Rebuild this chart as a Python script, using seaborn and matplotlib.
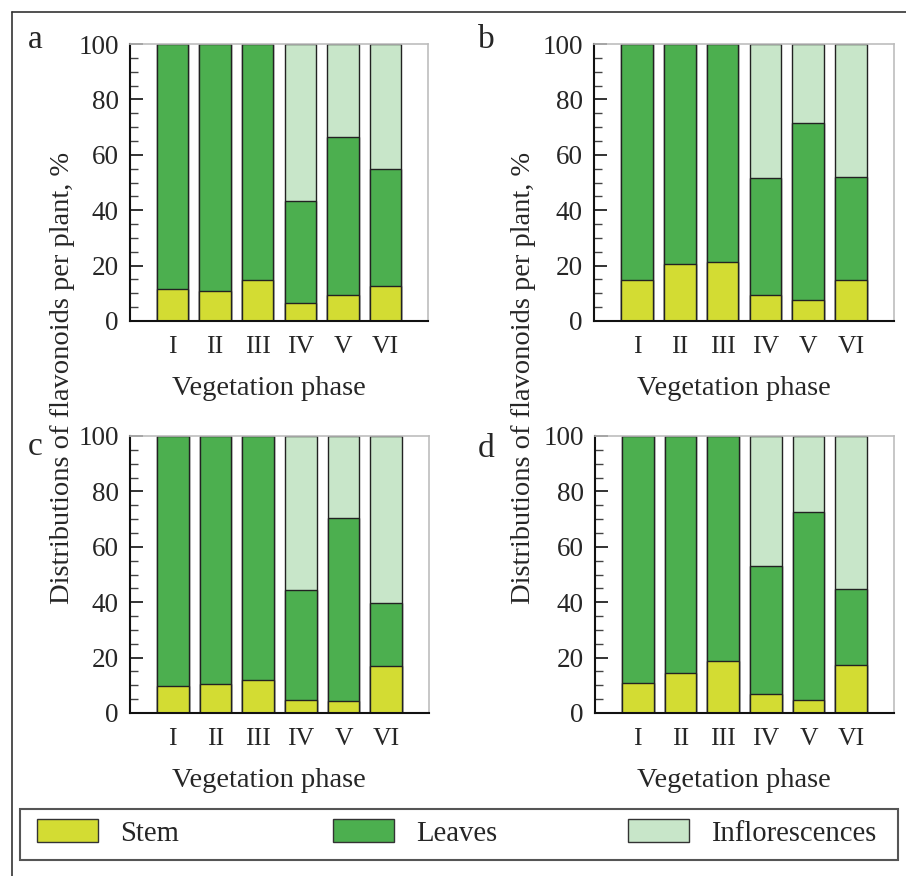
import numpy as np
import pandas as pd
import matplotlib
matplotlib.use("Agg")
import matplotlib.pyplot as plt
from matplotlib.patches import Patch, Rectangle
from matplotlib.lines import Line2D
from matplotlib.ticker import MultipleLocator
import seaborn as sns

# Vegetation phases and plant parts
phases = ["I", "II", "III", "IV", "V", "VI"]
panels = ["a", "b", "c", "d"]
parts = ["Stem", "Leaves", "Inflorescences"]

# Share of flavonoids (%) per plant part, one set per panel
stem_a = [11.6, 10.8, 14.9, 6.5, 9.4, 12.6]
leaves_a = [88.4, 89.2, 85.1, 37.0, 57.0, 42.4]
infl_a = [0.0, 0.0, 0.0, 56.5, 33.6, 45.0]

stem_b = [14.9, 20.4, 21.2, 9.4, 7.7, 14.8]
leaves_b = [85.1, 79.6, 78.8, 42.3, 63.8, 37.1]
infl_b = [0.0, 0.0, 0.0, 48.3, 28.5, 48.1]

stem_c = [9.6, 10.6, 12.0, 4.8, 4.4, 16.8]
leaves_c = [90.4, 89.4, 88.0, 39.6, 66.1, 22.9]
infl_c = [0.0, 0.0, 0.0, 55.6, 29.5, 60.3]

stem_d = [11.0, 14.3, 18.6, 7.0, 4.7, 17.4]
leaves_d = [89.0, 85.7, 81.4, 46.1, 67.8, 27.3]
infl_d = [0.0, 0.0, 0.0, 46.9, 27.5, 55.3]

colors = {"Stem": "#d3dc33", "Leaves": "#4caf4f", "Inflorescences": "#c8e6c9"}
edge = "#222222"

series = {
    "a": (stem_a, leaves_a, infl_a),
    "b": (stem_b, leaves_b, infl_b),
    "c": (stem_c, leaves_c, infl_c),
    "d": (stem_d, leaves_d, infl_d),
}

rows = []
for p in panels:
    for part, vals in zip(parts, series[p]):
        for ph, v in zip(phases, vals):
            rows.append({"panel": p, "part": part, "phase": ph, "value": v})
df = pd.DataFrame(rows)
df["phase"] = pd.Categorical(df["phase"], categories=phases, ordered=True)
df["part"] = pd.Categorical(df["part"], categories=parts, ordered=True)
df = df.sort_values(["panel", "phase", "part"])
# running total inside each stacked column
df["top"] = df.groupby(["panel", "phase"], observed=True)["value"].cumsum()

sns.set_theme(style="white")
plt.rcParams["font.family"] = ["Liberation Serif", "DejaVu Serif"]

W, H = 906, 876
fig = plt.figure(figsize=(W / 100, H / 100), dpi=100)

# axes boxes in pixels: left, top, right, bottom
boxes = {
    "a": (130, 44, 428, 321),
    "b": (594, 44, 894, 321),
    "c": (130, 436, 429, 713),
    "d": (595, 436, 894, 713),
}
letter_pos = {"a": (28, 48), "b": (478, 48), "c": (28, 455), "d": (478, 457)}

for p in panels:
    l, t, r, b = boxes[p]
    ax = fig.add_axes([l / W, 1 - b / H, (r - l) / W, (b - t) / H])
    sub = df[df["panel"] == p]
    # draw tallest layer first so the lower layers sit on top
    for part in reversed(parts):
        layer = sub[sub["part"] == part]
        sns.barplot(data=layer, x="phase", y="top", order=phases, color=colors[part],
                    saturation=1, width=0.74, edgecolor=edge, linewidth=1.0,
                    errorbar=None, ax=ax)
    ax.set_xlim(-1, 6)
    ax.set_ylim(0, 100)
    ax.yaxis.set_major_locator(MultipleLocator(20))
    ax.yaxis.set_minor_locator(MultipleLocator(5))
    ax.tick_params(axis="y", which="major", direction="in", length=9, width=1.2,
                   color="#111111", labelsize=19.5, pad=8, left=True)
    ax.tick_params(axis="y", which="minor", direction="in", length=6, width=1.0,
                   color="#444444", left=True)
    ax.tick_params(axis="x", length=0, labelsize=18.5, pad=11)
    ax.set_ylabel("")
    ax.set_xlabel("Vegetation phase", fontsize=20.5)
    ax.xaxis.set_label_coords(0.465, -0.20)
    ax.xaxis.label.set_va("top")
    for s in ("left", "bottom"):
        ax.spines[s].set_color("#111111")
        ax.spines[s].set_linewidth(1.5)
    for s in ("top", "right"):
        ax.spines[s].set_color("#bdbdbd")
        ax.spines[s].set_linewidth(1.2)
    ax.set_facecolor("white")
    lx, ly = letter_pos[p]
    fig.text(lx / W, 1 - ly / H, p, fontsize=24, ha="left", va="baseline")

ylab = "Distributions of flavonoids per plant, %"
for x in (63, 523):
    fig.text(x / W, 1 - 378 / H, ylab, rotation=90, fontsize=20.5, ha="center", va="center")

# outer frame (top and left rules)
fig.add_artist(Line2D([12 / W, 1], [1 - 12 / H, 1 - 12 / H], transform=fig.transFigure,
                      color="#333333", lw=1.2))
fig.add_artist(Line2D([12 / W, 12 / W], [0, 1 - 12 / H], transform=fig.transFigure,
                      color="#333333", lw=1.2))

# legend strip
fig.add_artist(Rectangle((20 / W, 1 - 860 / H), 878 / W, 51 / H, transform=fig.transFigure,
                         fill=False, edgecolor="#555555", lw=1.5))
fs = 20.6
em = fs / 0.72
for part, x0 in zip(parts, (37, 333, 628)):
    handle = Patch(facecolor=colors[part], edgecolor="#333333", linewidth=1.0, label=part)
    fig.legend(handles=[handle], loc="center left", bbox_to_anchor=(x0 / W, 1 - 833 / H),
               frameon=False, borderpad=0, borderaxespad=0, fontsize=fs,
               handlelength=61 / em, handleheight=24 / em, handletextpad=22 / em)

fig.savefig("out.png", dpi=100, facecolor="white")
